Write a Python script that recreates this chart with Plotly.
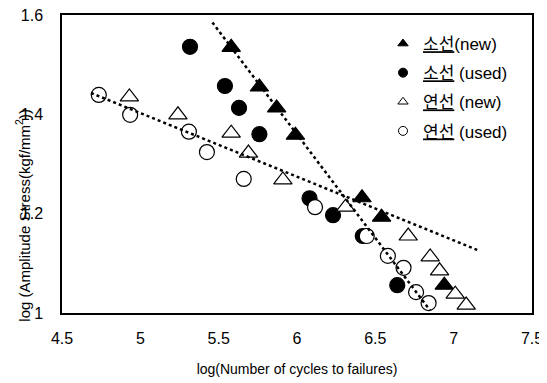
import plotly.graph_objects as go

# 소선 (new) - filled triangles
sn_new_x = [5.58, 5.76, 5.87, 5.99, 6.415, 6.54, 6.94]
sn_new_y = [1.535, 1.455, 1.413, 1.358, 1.232, 1.193, 1.056]
# 소선 (used) - filled circles
sn_used_x = [5.317, 5.54, 5.63, 5.76, 6.08, 6.23, 6.42, 6.64]
sn_used_y = [1.536, 1.457, 1.413, 1.36, 1.231, 1.197, 1.155, 1.056]
# 연선 (new) - open triangles
yn_new_x = [4.93, 5.24, 5.58, 5.69, 5.91, 6.31, 6.71, 6.85, 6.91, 7.01, 7.08]
yn_new_y = [1.435, 1.399, 1.362, 1.322, 1.268, 1.213, 1.155, 1.113, 1.085, 1.038, 1.016]
# 연선 (used) - open circles
yn_used_x = [4.735, 4.935, 5.31, 5.425, 5.66, 6.115, 6.445, 6.58, 6.68, 6.76, 6.84]
yn_used_y = [1.439, 1.399, 1.365, 1.324, 1.27, 1.213, 1.155, 1.115, 1.091, 1.042, 1.02]
# dotted trend lines (end points)
trend_steep_x = [5.46, 6.85]
trend_steep_y = [1.585, 1.005]
trend_flat_x = [4.685, 7.15]
trend_flat_y = [1.443, 1.127]

legend_names = ["<u>소선</u>(new)", "<u>소선</u> (used)", "<u>연선</u> (new)", "<u>연선</u> (used)"]
symbols = ["triangle-up", "circle", "triangle-up", "circle"]
fills = ["black", "black", "white", "white"]

series = [(sn_new_x, sn_new_y), (sn_used_x, sn_used_y), (yn_new_x, yn_new_y), (yn_used_x, yn_used_y)]

fig = go.Figure()
for i, (sx, sy) in enumerate(series):
    size = 16 if symbols[i] == "triangle-up" else 15
    fig.add_trace(go.Scatter(x=sx, y=sy, mode="markers", name=legend_names[i], showlegend=False,
                             marker=dict(symbol=symbols[i], size=size, color=fills[i],
                                         line=dict(color="black", width=1.2))))
for tx, ty in [(trend_steep_x, trend_steep_y), (trend_flat_x, trend_flat_y)]:
    fig.add_trace(go.Scatter(x=tx, y=ty, mode="lines", showlegend=False,
                             line=dict(color="black", width=2.5, dash="dot")))
# legend entries (small glyph-like markers)
for i in range(4):
    fig.add_trace(go.Scatter(x=[None], y=[None], mode="markers", name=legend_names[i],
                             legendgroup=f"g{i}",
                             marker=dict(symbol=symbols[i], size=9, color=fills[i],
                                         line=dict(color="black", width=1))))

axis_common = dict(showline=True, linecolor="black", linewidth=1.5, mirror=True,
                   showgrid=False, zeroline=False, ticks="", automargin=False,
                   ticklabeloverflow="allow",
                   tickfont=dict(size=16, color="black", family="Liberation Sans, Arial"))
fig.update_xaxes(range=[4.5, 7.5], dtick=0.5, tick0=4.5, ticklabelstandoff=10, **axis_common,
                 title=dict(text="log(Number of cycles to failures)",
                            font=dict(size=14, color="black", family="Liberation Sans, Arial"),
                            standoff=18))
fig.update_yaxes(range=[1, 1.6], dtick=0.2, tick0=1, ticklabelstandoff=14, **axis_common)

fig.add_annotation(text="log (Amplitude Stress(kgf/mm<sup>2</sup>))", textangle=-90,
                   xref="paper", yref="paper", x=-0.083, y=0.33, xanchor="center", yanchor="middle",
                   showarrow=False,
                   font=dict(size=15, color="black", family="Liberation Sans, Arial"))

fig.update_layout(
    width=539, height=375,
    margin=dict(l=54, r=15, t=7, b=70, autoexpand=False),
    plot_bgcolor="white", paper_bgcolor="white",
    font=dict(family="Liberation Sans, Noto Sans CJK KR", color="black"),
    legend=dict(x=0.683, y=0.963, xanchor="left", yanchor="top",
                bgcolor="rgba(0,0,0,0)", itemwidth=30, itemsizing="trace",
                tracegroupgap=4,
                font=dict(size=17, family="Liberation Sans, Noto Sans CJK KR", color="black")),
)

fig.write_html("out.html")
